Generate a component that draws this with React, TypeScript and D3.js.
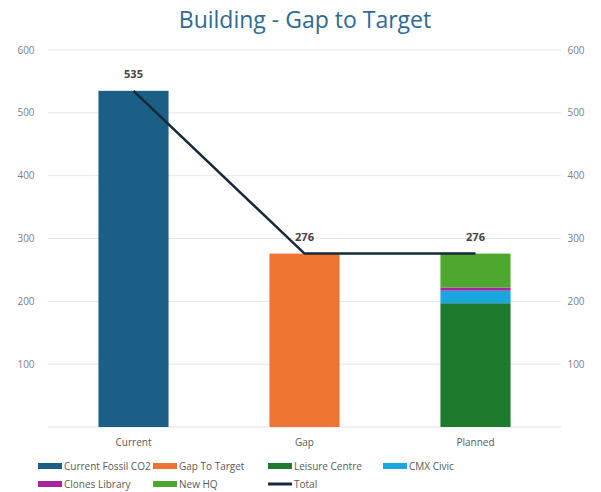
import React from "react";
import * as d3 from "d3";

const categories = ["Current", "Gap", "Planned"];
const currentValues = [535, 0, 0];
const gapValues = [0, 276, 0];
const leisureValues = [0, 0, 197];
const cmxValues = [0, 0, 20];
const clonesValues = [0, 0, 5];
const newHqValues = [0, 0, 54];
const totalValues = [535, 276, 276];
const yTicks = [100, 200, 300, 400, 500, 600];

const seriesNames = ["Current Fossil CO2", "Gap To Target", "Leisure Centre", "CMX Civic", "Clones Library", "New HQ"];
const seriesValues = [currentValues, gapValues, leisureValues, cmxValues, clonesValues, newHqValues];
const seriesColors = ["#1B5E86", "#EE7433", "#1E7A2C", "#1AA6DF", "#A8269B", "#4EA82F"];

export default function App() {
  const W = 601, H = 492;
  const left = 48, right = 561, top = 50, bottom = 427;
  const x = d3.scaleBand<string>().domain(categories).range([left, right]).paddingInner(0.59).paddingOuter(0.295);
  const y = d3.scaleLinear().domain([0, 600]).range([bottom, top]);
  const bw = x.bandwidth();

  const rects: JSX.Element[] = [];
  categories.forEach((c, i) => {
    let base = 0;
    seriesValues.forEach((vals, s) => {
      const v = vals[i];
      if (v > 0) {
        rects.push(
          <rect key={`${c}-${s}`} x={x(c)!} y={y(base + v)} width={bw} height={y(base) - y(base + v)} fill={seriesColors[s]} />
        );
        base += v;
      }
    });
  });

  const line = d3.line<number>().x((_, i) => x(categories[i])! + bw / 2).y((d) => y(d));

  const legendItems = [
    ...seriesNames.map((n, i) => ({ name: n, color: seriesColors[i], line: false })),
    { name: "Total", color: "#15293A", line: true },
  ];
  const legendX = [38, 153, 268, 383];
  const legendY = [466, 484];

  return (
    <svg width={W} height={H} style={{ position: "absolute", left: 0, top: 0, fontFamily: "'Open Sans', sans-serif" }}>
      <rect width={W} height={H} fill="#fff" />
      <text x={305} y={28} textAnchor="middle" fontSize={23} fill="#2E6A96" fontFamily="'Open Sans', sans-serif">Building - Gap to Target</text>
      {yTicks.map((t) => (
        <g key={t}>
          <line x1={left} x2={right} y1={y(t)} y2={y(t)} stroke="#e6e6e6" strokeWidth={1} />
          <text x={26} y={y(t) + 3.5} textAnchor="middle" fontSize={10} fill="#808080">{t}</text>
          <text x={576} y={y(t) + 3.5} textAnchor="middle" fontSize={10} fill="#808080">{t}</text>
        </g>
      ))}
      <line x1={left} x2={right} y1={bottom} y2={bottom} stroke="#e0e0e0" strokeWidth={1} />
      {rects}
      <path d={line(totalValues) || ""} fill="none" stroke="#15293A" strokeWidth={2.5} />
      {categories.map((c, i) => (
        <g key={c}>
          <text x={x(c)! + bw / 2} y={y(totalValues[i]) - 13} textAnchor="middle" fontSize={11} fontWeight="bold" fill="#444">{totalValues[i]}</text>
          <text x={x(c)! + bw / 2} y={446} textAnchor="middle" fontSize={10} fill="#595959">{c}</text>
        </g>
      ))}
      {legendItems.map((it, i) => {
        const lx = legendX[i % 4];
        const ly = legendY[Math.floor(i / 4)];
        return (
          <g key={it.name}>
            {it.line ? (
              <line x1={lx} x2={lx + 24} y1={ly} y2={ly} stroke={it.color} strokeWidth={3} />
            ) : (
              <rect x={lx} y={ly - 3} width={24} height={6} fill={it.color} />
            )}
            <text x={lx + 26} y={ly + 3.5} fontSize={10} fill="#595959">{it.name}</text>
          </g>
        );
      })}
    </svg>
  );
}
